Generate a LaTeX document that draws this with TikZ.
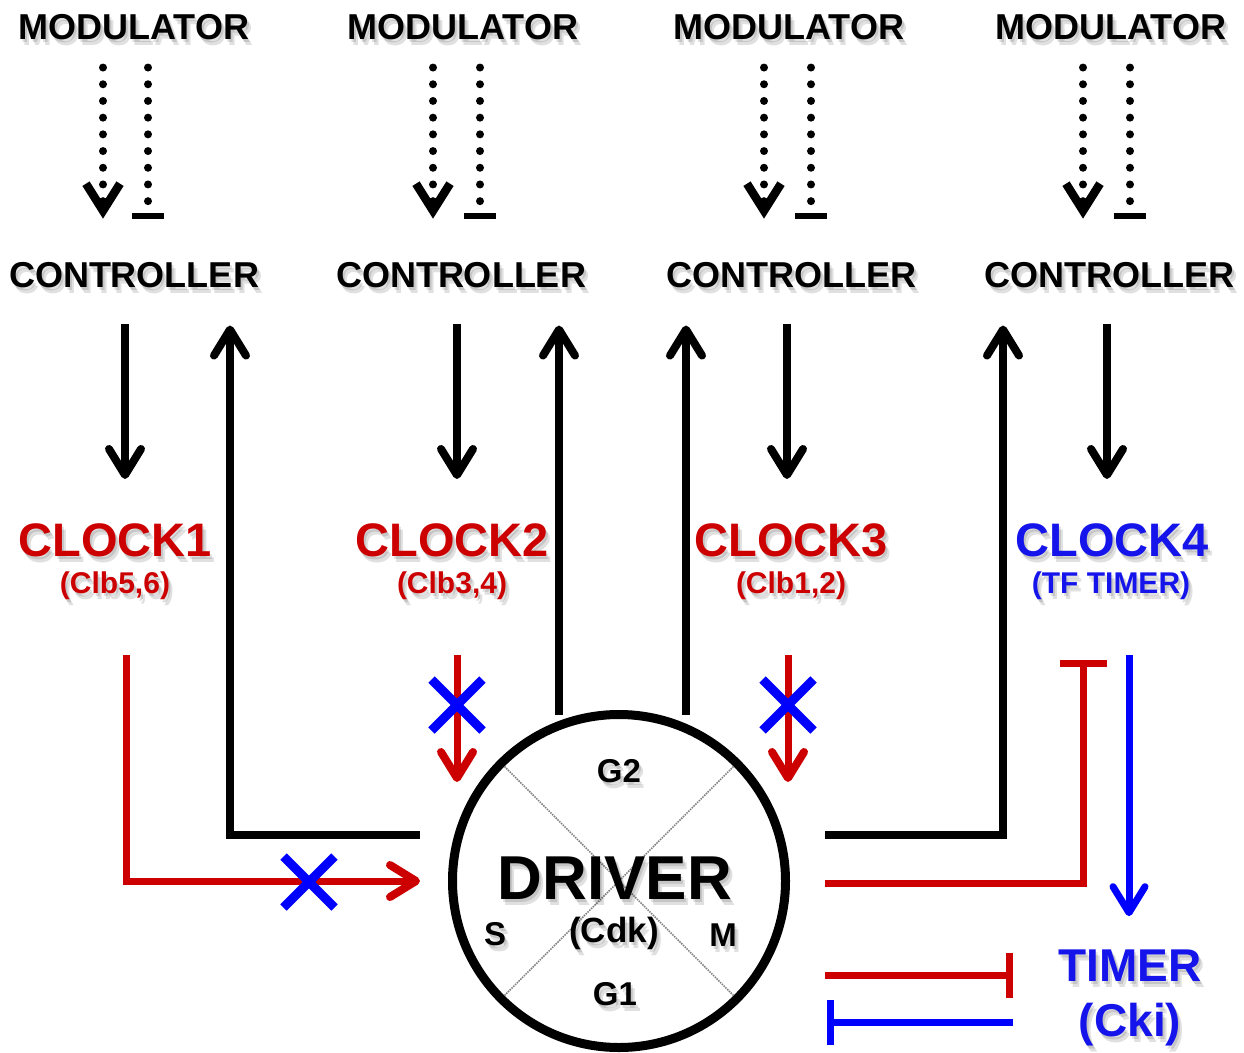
\documentclass[tikz,border=0pt]{standalone}
\usepackage{fontspec}
\setmainfont{Liberation Sans}
\usetikzlibrary{arrows.meta,calc,shapes.misc}
\definecolor{cred}{RGB}{204,0,0}
\definecolor{cblue}{RGB}{0,0,255}
\definecolor{tblue}{RGB}{20,20,235}
\newcommand\stxt[4]{%
  \node[#1,text=black,text opacity=0.12,shift={(2,3)}] at (#3) {#4};
  \node[#1,text=black,text opacity=0.12,shift={(4,6)}] at (#3) {#4};
  \node[#1] (#2) at (#3) {#4};}
\begin{document}
\begin{tikzpicture}[x=1pt,y=-1pt,
  txt/.style={anchor=base,inner sep=0pt,font=\bfseries},
  modst/.style={txt,font=\bfseries\fontsize{36}{40}\selectfont},
  clkst/.style={txt,font=\bfseries\fontsize{47}{50}\selectfont,text=cred},
  subst/.style={txt,font=\bfseries\fontsize{30}{34}\selectfont,text=cred},
  clkb/.style={clkst,text=tblue},
  subb/.style={subst,text=tblue},
  drvt/.style={txt,font=\bfseries\fontsize{62}{64}\selectfont},
  cdkt/.style={txt,font=\bfseries\fontsize{35}{38}\selectfont},
  phat/.style={txt,font=\bfseries\fontsize{33}{36}\selectfont},
  timt/.style={txt,font=\bfseries\fontsize{46}{50}\selectfont,text=tblue},
  chev/.tip={Straight Barb[length=27pt,width=34pt,line width=8.5pt]},
  chevr/.tip={Straight Barb[round,length=26pt,width=32pt,line width=8pt]},
  dbar/.tip={Bar[width=32pt,line width=6pt]},
  dotl/.style={line width=8pt,dash pattern=on 0pt off 16.7pt,line cap=round},
  modarr/.style={dotl,-chev,shorten <=28pt,shorten >=43pt},
  modbar/.style={dotl,-dbar,shorten <=28pt,shorten >=43pt},
  blk/.style={line width=8pt,black,-chevr},
  redl/.style={line width=7pt,cred},
  bluel/.style={line width=7pt,cblue},
  xmark/.style={cross out,draw=cblue,line width=9pt,minimum size=42pt,inner sep=0pt},
  diag/.style={gray,line width=1.5pt,densely dotted,shorten <=9pt,shorten >=9pt}]
\useasboundingbox (0,0) rectangle (1244,1052);
% column guides
\coordinate (xa1) at (103,0);  \coordinate (xb1) at (148,0);
\coordinate (xa2) at (433,0);  \coordinate (xb2) at (480,0);
\coordinate (xa3) at (764,0);  \coordinate (xb3) at (811,0);
\coordinate (xa4) at (1083,0); \coordinate (xb4) at (1130,0);
\coordinate (xd1) at (125,0);  \coordinate (xd2) at (457,0);
\coordinate (xd3) at (787,0);  \coordinate (xd4) at (1107,0);
\coordinate (xu1) at (230,0);  \coordinate (xu2) at (559,0);
\coordinate (xu3) at (686,0);  \coordinate (xu4) at (1003,0);
\coordinate (xr1) at (126,0);  \coordinate (xr2) at (457,0);
\coordinate (xr3) at (788,0);  \coordinate (xt4) at (1083,0);
\coordinate (xbl4) at (1129,0);
\coordinate (yr) at (0,975);   \coordinate (yb) at (0,1022);
% texts
\stxt{modst}{mod1}{134,39}{MODULATOR}
\stxt{modst}{mod2}{463,39}{MODULATOR}
\stxt{modst}{mod3}{789,39}{MODULATOR}
\stxt{modst}{mod4}{1111,39}{MODULATOR}
\stxt{modst}{ctrl1}{134,287}{CONTROLLER}
\stxt{modst}{ctrl2}{461,287}{CONTROLLER}
\stxt{modst}{ctrl3}{791,287}{CONTROLLER}
\stxt{modst}{ctrl4}{1109,287}{CONTROLLER}
\stxt{clkst}{clk1}{115,556}{CLOCK1}
\stxt{clkst}{clk2}{452,556}{CLOCK2}
\stxt{clkst}{clk3}{791,556}{CLOCK3}
\stxt{clkb}{clk4}{1112,556}{CLOCK4}
\stxt{subst}{sub1}{115,593}{(Clb5,6)}
\stxt{subst}{sub2}{452,593}{(Clb3,4)}
\stxt{subst}{sub3}{791,593}{(Clb1,2)}
\stxt{subb}{sub4}{1111,593}{(TF TIMER)}
% driver
\node[circle,draw,line width=9pt,minimum size=333pt,inner sep=0pt] (drv) at (619,881) {};
\draw[diag] (drv.45) -- (drv.225);
\draw[diag] (drv.135) -- (drv.315);
\stxt{drvt}{drvtxt}{615,899}{DRIVER}
\stxt{cdkt}{cdk}{614,942}{(Cdk)}
\stxt{phat}{g2}{619,782}{G2}
\stxt{phat}{g1}{615,1005}{G1}
\stxt{phat}{ps}{495,945}{S}
\stxt{phat}{pm}{723,946}{M}
\stxt{timt}{timer}{1130,981}{TIMER}
\stxt{timt}{cki}{1130,1036}{(Cki)}
% modulator -> controller, controller -> clock
\foreach \i in {1,2,3,4}{
  \draw[modarr] (mod\i.south -| xa\i) -- (ctrl\i.north -| xa\i);
  \draw[modbar] (mod\i.south -| xb\i) -- (ctrl\i.north -| xb\i);
  \draw[blk,shorten <=36pt,shorten >=44pt] (ctrl\i.south -| xd\i) -- (clk\i.north -| xd\i);
}
% driver -> controllers
\draw[blk,shorten <=28pt,shorten >=38pt] ([yshift=46pt]drv.west) -| (ctrl1.south -| xu1);
\draw[blk,shorten <=-5pt,shorten >=38pt] (drv.north -| xu2) -- (ctrl2.south -| xu2);
\draw[blk,shorten <=-5pt,shorten >=38pt] (drv.north -| xu3) -- (ctrl3.south -| xu3);
\draw[blk,shorten <=35pt,shorten >=38pt] ([yshift=46pt]drv.east) -| (ctrl4.south -| xu4);
% clocks -> driver
\draw[redl,-chevr,shorten <=56pt,shorten >=28pt] (sub1.south -| xr1) |- (drv.west);
\draw[redl,-chevr,shorten <=56pt,shorten >=99pt] (sub2.south -| xr2) -- (drv.center -| xr2);
\draw[redl,-chevr,shorten <=56pt,shorten >=99pt] (sub3.south -| xr3) -- (drv.center -| xr3);
\draw[redl,-{Bar[width=47pt,line width=7pt]},shorten <=35pt,shorten >=61pt] ([yshift=-2pt]drv.east) -| (sub4.south -| xt4);
\draw[bluel,-{Straight Barb[round,length=26pt,width=32pt,line width=7pt]},shorten <=56pt,shorten >=33pt] (sub4.south -| xbl4) -- (timer.north -| xbl4);
\draw[redl,-{Bar[width=45pt,line width=7pt]},shorten <=35pt,shorten >=45pt] (drv.east |- yr) -- (timer.west |- yr);
\draw[bluel,-{Bar[width=45pt,line width=7pt]},shorten <=66pt,shorten >=37pt] (cki.west |- yb) -- (drv.east |- yb);
% blocked marks
\node[xmark] (x1) at (309,882) {};
\node[xmark] (x2) at (457,705) {};
\node[xmark] (x3) at (788,705) {};
\end{tikzpicture}
\end{document}
